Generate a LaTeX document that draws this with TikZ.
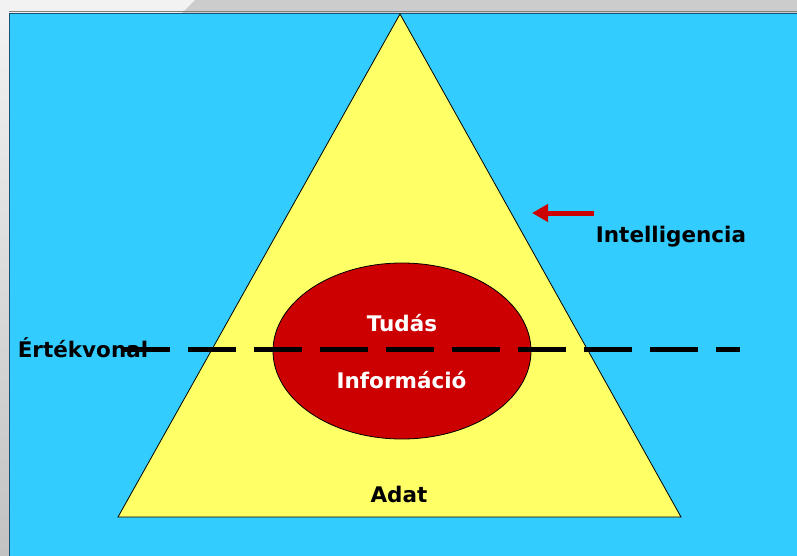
\documentclass[tikz,border=0pt]{standalone}
\usepackage{fontspec}
\setmainfont{DejaVu Sans}
\usepackage{xcolor}
\usetikzlibrary{arrows.meta,shapes.geometric}

\definecolor{egkek}{HTML}{33CCFF}
\definecolor{hatszurke}{HTML}{CCCCCC}
\definecolor{piramis}{HTML}{FFFF66}
\definecolor{piros}{HTML}{CC0000}
\definecolor{keret}{HTML}{1B4F72}

\tikzset{
  felirat/.style={font=\fontsize{21.5}{24}\selectfont\bfseries, inner sep=0pt, anchor=base},
  feher/.style={felirat, text=white},
  ertek/.style={line width=5pt, dash pattern=on 48pt off 18pt},
  nyil/.style={piros, line width=5pt, -{Triangle[length=16pt,width=17pt]}}
}

\begin{document}
\begin{tikzpicture}[x=1pt,y=-1pt]
\useasboundingbox (0,0) rectangle (797,556);
% background
\fill[white!95!black] (0,0) rectangle (797,556);
\fill[hatszurke] (182,13) -- (195,0) -- (797,0) -- (797,13) -- cycle;
\shade[top color=white!95!black, bottom color=white!76!black] (0,13) rectangle (9,556);
\fill[egkek] (9,13) rectangle (797,556);
\draw[gray, line width=1pt] (9,11.5) -- (797,11.5);
\draw[keret, line width=1.5pt] (9.5,556) -- (9.5,13.5) -- (797,13.5);

% pyramid
\coordinate (csucs) at (400,14);
\coordinate (bal) at (118,517);
\coordinate (jobb) at (681,517);
\filldraw[fill=piramis, draw=black, line width=0.8pt] (csucs) -- (jobb) -- (bal) -- cycle;
\filldraw[fill=piros, draw=black, line width=0.8pt] (402,351) ellipse [x radius=129, y radius=88];

% value line
\coordinate (vonal1) at (122,349);
\coordinate (vonal2) at (740,349);
\draw[ertek] (vonal1) -- (vonal2);

% labels
\node[feher] (tudas) at (402,331) {Tudás};
\node[feher] (info) at (401.5,388) {Információ};
\node[felirat] (adat) at (399,502) {Adat};
\node[felirat] (ertekvonal) at (83,357) {Értékvonal};
\node[felirat] (intell) at (671,242) {Intelligencia};

% arrow
\coordinate (nyilki) at (594,213);
\coordinate (nyilbe) at (532,213);
\draw[nyil] (nyilki) -- (nyilbe);
\end{tikzpicture}
\end{document}
